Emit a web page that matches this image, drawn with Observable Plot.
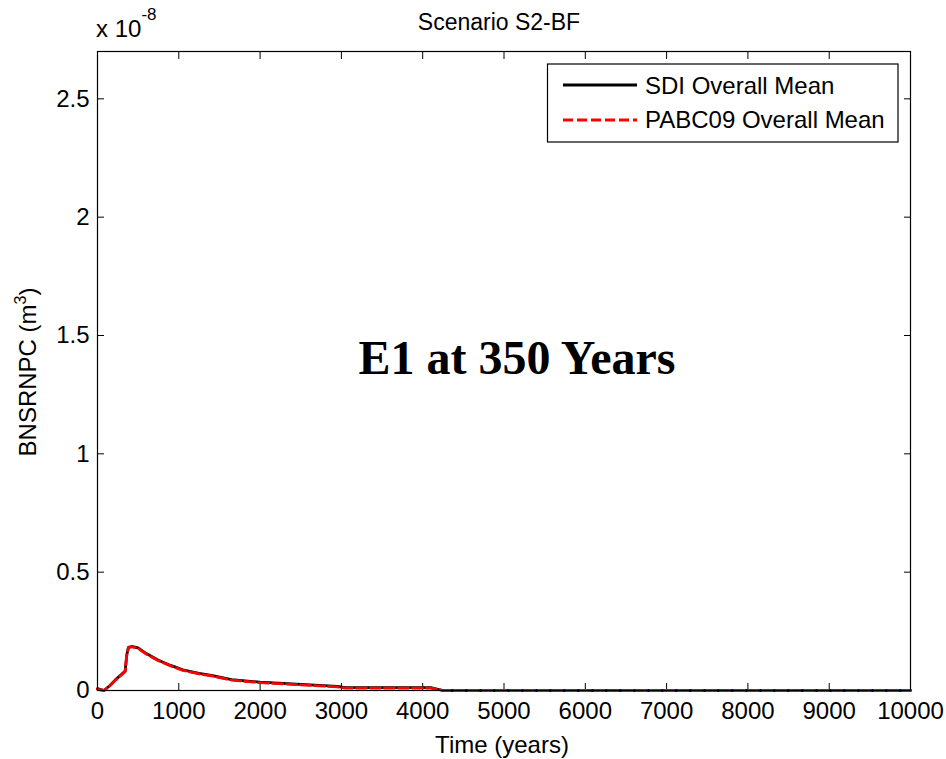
<!DOCTYPE html>
<html><head><meta charset="utf-8">
<script src="https://cdn.jsdelivr.net/npm/d3@7"></script>
<script src="https://cdn.jsdelivr.net/npm/@observablehq/plot@0.6"></script>
<style>body{margin:0;background:#fff;} svg{display:block;font-family:"Liberation Sans",Arial,sans-serif;}</style>
</head><body><div id="chart"></div>
<script>
const time = [0, 80, 150, 220, 300, 340, 360, 380, 420, 500, 600, 750, 900, 1050, 1250, 1400, 1650, 2000, 2450, 2950, 3050, 4100, 4250, 10000];
const sdi  = [0.008, 0.0, 0.02, 0.045, 0.07, 0.082, 0.15, 0.182, 0.186, 0.18, 0.156, 0.128, 0.106, 0.087, 0.072, 0.064, 0.046, 0.035, 0.027, 0.017, 0.012, 0.012, 0.0, 0.0];
const pabc = [0.005, 0.0, 0.02, 0.043, 0.068, 0.08, 0.15, 0.18, 0.185, 0.178, 0.154, 0.126, 0.104, 0.085, 0.07, 0.062, 0.044, 0.033, 0.025, 0.015, 0.01, 0.01, 0.0, 0.0];
const xTicks = [0,1000,2000,3000,4000,5000,6000,7000,8000,9000,10000];
const yTicks = [0,0.5,1,1.5,2,2.5];
const seriesNames = ["SDI Overall Mean", "PABC09 Overall Mean"];

const dSdi = time.map((t,i)=>({t, v: sdi[i]}));
const dPabc = time.map((t,i)=>({t, v: pabc[i]}));
const font = 24;
const plot = Plot.plot({
  width: 946, height: 759,
  marginLeft: 97, marginRight: 36, marginTop: 51, marginBottom: 69,
  style: {fontFamily: '"Liberation Sans", Arial, sans-serif', fontSize: font+"px", color: "#000", background: "#fff"},
  x: {domain: [0,10000]},
  y: {domain: [0,2.7]},
  marks: [
    Plot.axisX(xTicks, {anchor: "bottom", tickSize: 0, tickPadding: 11, tickFormat: d => String(d), fontSize: font, label: null}),
    Plot.axisX(xTicks, {anchor: "bottom", tickSize: 7, dy: -7, text: null, label: null, strokeWidth: 1}),
    Plot.axisX(xTicks, {anchor: "top", tickSize: 7, dy: 7, text: null, label: null, strokeWidth: 1}),
    Plot.axisY(yTicks, {anchor: "left", tickSize: 0, tickPadding: 8, tickFormat: d => String(d), fontSize: font, label: null}),
    Plot.axisY(yTicks, {anchor: "left", tickSize: 7, dx: 7, text: null, label: null, strokeWidth: 1}),
    Plot.axisY(yTicks, {anchor: "right", tickSize: 7, dx: -7, text: null, label: null, strokeWidth: 1}),
    Plot.line(dSdi, {x: "t", y: "v", stroke: "black", strokeWidth: 2.8}),
    Plot.line(dPabc, {x: "t", y: "v", stroke: "#ff0000", strokeWidth: 2.8, strokeDasharray: "10,4"}),
    Plot.frame({stroke: "black", strokeWidth: 1.2}),
    Plot.text(["E1 at 350 Years"], {frameAnchor: "middle", dx: 13, dy: -12, fontFamily: '"Liberation Serif", "Times New Roman", serif', fontWeight: "bold", fontSize: 48, fill: "black"})
  ]
});
const svg = d3.select(plot);
// title
svg.append("text").attr("x", 499).attr("y", 30).attr("text-anchor","middle").attr("font-size", 23).text("Scenario S2-BF");
// exponent
const ex = svg.append("text").attr("x", 96).attr("y", 37).attr("text-anchor","start").attr("font-size", font);
ex.append("tspan").text("x 10");
ex.append("tspan").attr("dy", -17).attr("font-size", 17).text("-8");
// axis labels
svg.append("text").attr("x", 502).attr("y", 753).attr("text-anchor","middle").attr("font-size", font).text("Time (years)");
const yl = svg.append("text").attr("transform","translate(36,372) rotate(-90)").attr("text-anchor","middle").attr("font-size", font);
yl.append("tspan").text("BNSRNPC (m");
yl.append("tspan").attr("dy", -10).attr("font-size", 16).text("3");
yl.append("tspan").attr("dy", 10).text(")");
// legend
const lg = svg.append("g").attr("text-anchor","start");
lg.append("rect").attr("x", 547.5).attr("y", 64).attr("width", 350.5).attr("height", 78).attr("fill","white").attr("stroke","black").attr("stroke-width",1.2);
lg.append("line").attr("x1",563).attr("x2",637).attr("y1",85).attr("y2",85).attr("stroke","black").attr("stroke-width",2.8);
lg.append("line").attr("x1",563).attr("x2",637).attr("y1",120).attr("y2",120).attr("stroke","#ff0000").attr("stroke-width",2.8).attr("stroke-dasharray","10,4");
lg.append("text").attr("x",645).attr("y",94).attr("font-size",24).text(seriesNames[0]);
lg.append("text").attr("x",645).attr("y",128).attr("font-size",24).text(seriesNames[1]);
document.getElementById("chart").appendChild(plot);
</script></body></html>
